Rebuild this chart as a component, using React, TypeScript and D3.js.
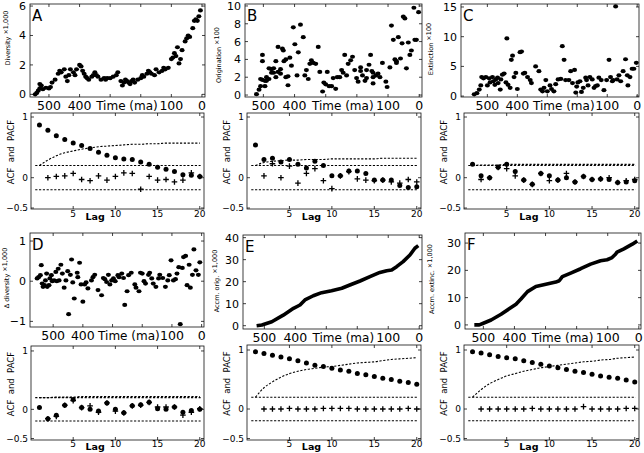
import * as d3 from 'd3'

const FONT = '"DejaVu Sans", Verdana, sans-serif'

// top-row series: [age in Ma, value]
const diversity: [number, number][] = [
  [545, 0], [540, 0.1], [535, 0.25], [530, 0.4], [530, 0.7], [525, 0.6], [520, 0.35], [510, 0.45], [500, 0.4], [495, 0.5],
  [490, 0.8], [480, 1.0], [470, 1.4], [465, 1.6], [460, 1.5], [450, 1.7], [445, 1.2], [440, 0.9], [435, 1.3], [430, 1.7],
  [420, 1.5], [415, 1.3], [410, 1.7], [400, 2.0], [395, 1.9], [390, 1.6], [385, 1.4], [380, 1.2], [375, 1.1], [370, 1.0],
  [360, 1.2], [355, 1.3], [350, 1.5], [345, 1.3], [340, 1.2], [330, 1.0], [320, 1.1], [315, 1.0], [310, 1.1], [300, 1.1],
  [290, 1.2], [280, 1.3], [275, 1.5], [265, 0.9], [260, 0.6], [255, 0.8], [250, 1.0], [245, 0.9], [240, 0.8], [235, 0.7],
  [230, 0.9], [225, 1.0], [220, 0.8], [210, 1.0], [200, 1.1], [195, 1.3], [190, 1.2], [180, 1.4], [175, 1.6], [170, 1.5],
  [165, 1.4], [155, 1.3], [150, 1.7], [140, 1.5], [130, 1.6], [125, 1.8], [120, 1.7], [110, 1.8], [100, 2.4], [95, 2.5],
  [90, 2.8], [85, 2.6], [80, 3.2], [75, 2.1], [70, 2.4], [65, 3.0], [55, 3.6], [50, 3.8], [45, 4.0], [40, 3.9],
  [30, 4.5], [25, 5.0], [20, 5.1], [15, 5.0], [10, 5.3], [5, 5.7],
]
const origination: [number, number][] = [
  [522, 0.1], [514, 0.6], [509, 1.0], [509, 1.8], [503, 1.7], [503, 3.8], [503, 4.5], [495, 1.0], [495, 1.6], [490, 1.6],
  [490, 2.0], [482, 1.8], [482, 3.0], [474, 2.5], [474, 2.9], [467, 2.5], [467, 3.0], [460, 3.8], [460, 2.0], [453, 5.4],
  [453, 2.6], [445, 2.4], [445, 2.9], [439, 5.2], [436, 5.0], [434, 3.8], [428, 2.0], [428, 4.0], [421, 2.1], [421, 1.1],
  [415, 4.2], [410, 3.3], [404, 7.6], [399, 5.7], [392, 2.2], [388, 4.8], [381, 7.9], [372, 6.5], [367, 2.2], [362, 2.8],
  [356, 1.8], [351, 3.5], [346, 3.9], [340, 3.6], [332, 3.5], [324, 5.4], [319, 2.6], [310, 0.4], [306, 1.4], [300, 1.2],
  [295, 2.6], [289, 1.0], [281, 1.0], [276, 1.9], [268, 0.7], [263, 2.0], [255, 2.0], [249, 2.8], [244, 2.5], [239, 4.5],
  [233, 2.2], [228, 3.5], [220, 3.9], [214, 4.3], [207, 2.8], [201, 1.9], [196, 1.5], [188, 3.1], [188, 2.7], [182, 2.2],
  [174, 1.6], [169, 1.9], [169, 2.8], [161, 3.4], [156, 4.5], [152, 2.7], [148, 2.5], [148, 2.0], [148, 1.3], [139, 2.2],
  [132, 2.4], [126, 2.0], [118, 3.6], [107, 1.5], [103, 0.9], [94, 3.1], [89, 7.8], [83, 6.2], [78, 4.0], [73, 3.6],
  [73, 3.8], [67, 6.5], [60, 4.1], [55, 5.8], [51, 8.8], [46, 8.6], [41, 3.0], [35, 5.9], [30, 4.5], [25, 5.0],
  [17, 9.8], [14, 6.2], [9, 6.2], [2, 9.3],
]
const extinction: [number, number][] = [
  [544, 0.3], [535, 0.5], [527, 1.1], [522, 1.8], [519, 3.2], [513, 3.0], [505, 3.2], [500, 1.8], [494, 3.0], [491, 2.3],
  [483, 3.2], [480, 2.5], [475, 1.9], [472, 2.8], [466, 3.1], [464, 2.2], [457, 1.1], [455, 2.8], [450, 3.6], [444, 3.8],
  [438, 2.3], [435, 9.7], [431, 1.9], [424, 1.4], [420, 6.1], [416, 6.8], [411, 3.2], [405, 3.9], [400, 1.2], [391, 7.4],
  [386, 7.5], [380, 3.8], [375, 3.9], [366, 3.2], [357, 2.7], [353, 2.2], [339, 5.0], [328, 4.2], [322, 1.1], [316, 0.8],
  [311, 1.4], [305, 2.7], [300, 0.8], [291, 1.8], [286, 1.2], [278, 0.8], [272, 2.0], [264, 2.8], [255, 2.9], [250, 8.4],
  [244, 6.1], [239, 2.7], [228, 2.7], [222, 4.2], [216, 2.2], [209, 4.4], [205, 0.6], [202, 1.6], [198, 2.3], [191, 2.5],
  [186, 0.7], [180, 1.4], [172, 3.1], [169, 2.7], [164, 1.8], [158, 3.2], [150, 2.8], [144, 1.4], [139, 1.7], [133, 1.8],
  [128, 3.1], [120, 2.7], [111, 1.0], [102, 2.7], [94, 6.1], [89, 3.2], [83, 2.5], [80, 2.7], [72, 15.1], [67, 2.8],
  [61, 3.5], [55, 2.5], [47, 4.2], [39, 6.2], [33, 3.5], [31, 1.8], [24, 3.2], [17, 4.6], [11, 4.6], [3, 5.6],
]
const deltaDiversity: [number, number][] = [
  [554, 0.07], [549, 0.1], [543, 0.15], [540, 0.4], [537, -0.06], [534, -0.14], [529, -0.1], [526, 0.02], [522, 0.19], [520, -0.14],
  [514, -0.1], [511, 0.07], [506, 0.15], [503, 0], [497, 0.02], [491, 0.23], [488, 0], [483, 0.31], [480, 0.02], [474, 0.41],
  [469, 0.19], [463, -0.16], [457, 0.02], [451, 0.25], [448, -0.82], [442, 0.16], [438, 0.54], [434, -0.03], [429, -0.43], [419, 0.21],
  [417, 0.1], [411, 0.46], [406, -0.08], [400, -0.51], [394, -0.08], [389, -0.03], [383, -0.18], [371, 0.02], [366, 0.1], [360, 0.16],
  [349, -0.22], [337, -0.35], [331, 0.08], [326, 0.05], [320, -0.02], [314, 0.16], [309, -0.08], [303, 0.02], [297, 0.07], [291, 0],
  [282, 0.15], [278, 0.1], [269, 0.19], [263, 0.08], [259, -0.59], [251, -0.25], [246, 0.15], [237, 0.21], [225, -0.08], [221, -0.16],
  [211, -0.25], [206, 0.21], [200, 0.19], [194, 0], [189, -0.06], [179, 0.16], [175, 0.21], [168, 0.07], [163, -0.06], [154, -0.14],
  [145, 0.07], [141, 0.16], [131, 0.08], [122, -0.14], [114, 0.02], [109, 0.15], [103, 0.52], [95, 0.02], [88, 0.05], [83, 0.19],
  [77, 0.35], [72, -1.07], [65, 0.33], [61, 0.6], [54, 0.63], [49, -0.1], [42, 0.41], [38, -0.16], [31, 0.16], [26, 0.79],
  [19, 0.27], [11, 0.16], [6, 0.47],
]
const accmOrig: [number, number][] = [
  [525, 0], [508, 0.3], [476, 1.8], [439, 4.8], [406, 7.9], [385, 9.4], [369, 11.7], [342, 13.6], [315, 15.0], [283, 15.9],
  [250, 17.0], [224, 18.5], [191, 20.3], [159, 22.3], [127, 24.2], [105, 25.0], [89, 25.3], [73, 26.8], [52, 29.1], [30, 32.1],
  [14, 35.2], [3, 36.4],
]
const accmExtinc: [number, number][] = [
  [529, 0], [513, 0], [502, 0.5], [475, 1.8], [443, 3.9], [417, 5.9], [395, 7.6], [379, 9.5], [358, 12.2], [331, 14.1],
  [299, 14.9], [267, 15.7], [256, 16.2], [246, 17.7], [219, 19.0], [187, 20.6], [155, 22.3], [123, 23.5], [102, 23.9], [86, 24.7],
  [75, 25.9], [70, 26.7], [48, 27.9], [21, 29.6], [5, 30.8],
]

// autocorrelation rows
const lags = [1, 2, 3, 4, 5, 6, 7, 8, 9, 10, 11, 12, 13, 14, 15, 16, 17, 18, 19, 20]
const acfA = [0.87, 0.78, 0.69, 0.63, 0.57, 0.53, 0.48, 0.42, 0.37, 0.33, 0.31, 0.30, 0.26, 0.22, 0.17, 0.14, 0.10, 0.05, 0.04, 0.02]
const pacfA = [0.00, 0.02, 0.03, 0.07, -0.03, -0.05, 0.03, -0.04, 0.02, 0.08, 0.07, -0.19, 0.02, -0.04, -0.03, -0.07, -0.04, 0.08, 0.02]
const boundA = [0.2, 0.29, 0.36, 0.41, 0.44, 0.47, 0.49, 0.51, 0.52, 0.53, 0.54, 0.55, 0.55, 0.56, 0.56, 0.57, 0.57, 0.57, 0.57, 0.57]
const acfB = [0.54, 0.30, 0.32, 0.26, 0.30, 0.22, 0.16, 0.27, 0.20, 0.03, 0.03, 0.11, 0.11, 0.07, -0.04, -0.04, -0.04, -0.13, -0.16, -0.15]
const pacfB = [0.03, 0.23, 0.00, 0.19, -0.09, 0.07, 0.15, -0.05, -0.18, 0.03, 0.10, -0.02, -0.04, -0.05, -0.04, -0.07, -0.09, -0.03, -0.07]
const boundB = [0.2, 0.25, 0.27, 0.28, 0.29, 0.29, 0.30, 0.30, 0.30, 0.31, 0.31, 0.31, 0.31, 0.31, 0.31, 0.32, 0.32, 0.32, 0.32, 0.32]
const acfC = [0.22, 0.03, 0.00, 0.17, 0.22, 0.10, -0.04, -0.11, 0.07, 0.03, -0.04, 0.00, -0.07, 0.02, -0.03, -0.02, -0.03, -0.08, -0.07, -0.05]
const pacfC = [-0.03, 0.00, 0.17, 0.15, 0.03, -0.04, -0.11, 0.07, -0.05, -0.04, 0.07, -0.07, 0.02, -0.03, -0.02, 0.00, -0.08, -0.05, -0.03]
const boundC = [0.2, 0.21, 0.21, 0.21, 0.22, 0.22, 0.22, 0.22, 0.22, 0.22, 0.22, 0.22, 0.22, 0.22, 0.22, 0.22, 0.22, 0.22, 0.22, 0.22]
const acfD = [0.03, -0.16, -0.10, 0.07, 0.17, 0.03, 0.00, -0.03, 0.11, 0.00, -0.06, 0.06, 0.08, 0.12, 0.01, 0.00, 0.04, -0.05, -0.02, 0.00]
const pacfD = [-0.16, -0.12, 0.07, 0.15, 0.03, 0.06, -0.05, 0.11, -0.03, -0.06, 0.06, 0.07, 0.12, 0.04, 0.04, 0.04, -0.10, -0.05, 0.01]
const boundD = [0.2, 0.2, 0.21, 0.21, 0.21, 0.22, 0.22, 0.22, 0.22, 0.22, 0.22, 0.22, 0.22, 0.22, 0.22, 0.22, 0.22, 0.22, 0.22, 0.22]
const acfE = [0.97, 0.94, 0.91, 0.88, 0.85, 0.82, 0.78, 0.74, 0.72, 0.69, 0.66, 0.64, 0.60, 0.58, 0.55, 0.52, 0.50, 0.47, 0.45, 0.42]
const pacfE = [0, 0, 0, 0.01, 0, 0, 0, 0.01, 0.01, 0.01, 0.01, 0, 0, 0, 0, 0, 0, 0.01, 0]
const boundE = [0.2, 0.36, 0.46, 0.54, 0.6, 0.64, 0.67, 0.69, 0.71, 0.72, 0.74, 0.76, 0.78, 0.79, 0.8, 0.82, 0.84, 0.85, 0.86, 0.87]
const acfF = [0.97, 0.95, 0.92, 0.89, 0.87, 0.85, 0.82, 0.79, 0.76, 0.73, 0.70, 0.67, 0.64, 0.62, 0.59, 0.56, 0.54, 0.52, 0.49, 0.46]
const pacfF = [0, 0, 0, 0, 0, 0, 0.01, 0, 0, 0, 0, 0, 0.04, 0, 0, 0, 0, 0.01, 0.01]
const boundF = [0.2, 0.33, 0.43, 0.5, 0.56, 0.6, 0.64, 0.67, 0.7, 0.72, 0.74, 0.76, 0.78, 0.8, 0.81, 0.83, 0.84, 0.86, 0.87, 0.88]

const timeTicks = [500, 400, 300, 200, 100, 0]
const timeTickLabels = [500, 400, 100, 0]
const lagTicks = [5, 10, 15, 20]
const acfTicks = [-0.5, 0, 1]
const ciLevel = 0.2

type Box = { l: number; r: number; t: number; b: number }
type TopCfg = {
  id: string; box: Box; xDom: [number, number]; yDom: [number, number]; yTicks: number[]
  data: [number, number][]; line?: boolean; ylab: string[]; ylabAt: [number, number]
}
type AcfCfg = { box: Box; yDom: [number, number]; acf: number[]; pacf: number[]; bound: number[]; lagLabelDy: number }

const topPanels: TopCfg[] = [
  { id: 'A', box: { l: 30, r: 205, t: 4, b: 97 }, xDom: [562, -10], yDom: [-0.18, 6.14], yTicks: [0, 2, 4, 6], data: diversity, ylab: ['Diversity', '×1,000'], ylabAt: [10, 38] },
  { id: 'B', box: { l: 245, r: 422, t: 4, b: 97 }, xDom: [559, -9], yDom: [-0.22, 10.22], yTicks: [0, 2, 4, 6, 8, 10], data: origination, ylab: ['Origination', '×100'], ylabAt: [221, 55] },
  { id: 'C', box: { l: 461, r: 639, t: 4, b: 97 }, xDom: [588, -6], yDom: [-0.15, 15.5], yTicks: [0, 5, 10, 15], data: extinction, ylab: ['Extinction', '×100'], ylabAt: [433, 49] },
  { id: 'D', box: { l: 30, r: 204, t: 233, b: 327 }, xDom: [578, -8], yDom: [-1.14, 1.2], yTicks: [-1, 0, 1], data: deltaDiversity, ylab: ['Δ diversity', '×1,000'], ylabAt: [9, 278] },
  { id: 'E', box: { l: 243, r: 422, t: 235, b: 329 }, xDom: [569, -9], yDom: [-1.5, 41.2], yTicks: [0, 10, 20, 30, 40], data: accmOrig, line: true, ylab: ['Accm. orig.', '×1,000'], ylabAt: [219, 281] },
  { id: 'F', box: { l: 465, r: 641, t: 233, b: 329 }, xDom: [559, -7], yDom: [-1.5, 33.7], yTicks: [0, 10, 20, 30], data: accmExtinc, line: true, ylab: ['Accm. extinc.', '×1,000'], ylabAt: [434, 279] },
]

const acfTop: [number, number] = [-0.516, 1.066]
const acfBottom: [number, number] = [-0.525, 1.085]
const acfPanels: AcfCfg[] = [
  { box: { l: 31, r: 204, t: 113, b: 209 }, yDom: acfTop, acf: acfA, pacf: pacfA, bound: boundA, lagLabelDy: 8 },
  { box: { l: 247, r: 421, t: 113, b: 209 }, yDom: acfTop, acf: acfB, pacf: pacfB, bound: boundB, lagLabelDy: 8 },
  { box: { l: 464, r: 639, t: 113, b: 209 }, yDom: acfTop, acf: acfC, pacf: pacfC, bound: boundC, lagLabelDy: 8 },
  { box: { l: 31, r: 204, t: 346, b: 440 }, yDom: acfBottom, acf: acfD, pacf: pacfD, bound: boundD, lagLabelDy: 7 },
  { box: { l: 247, r: 421, t: 345, b: 440 }, yDom: acfBottom, acf: acfE, pacf: pacfE, bound: boundE, lagLabelDy: 7 },
  { box: { l: 464, r: 639, t: 345, b: 440 }, yDom: acfBottom, acf: acfF, pacf: pacfF, bound: boundF, lagLabelDy: 7 },
]

const TL = 3

function TopPanel({ p }: { p: TopCfg }) {
  const { l, r, t, b } = p.box
  const x = d3.scaleLinear().domain(p.xDom).range([l, r])
  const y = d3.scaleLinear().domain(p.yDom).range([b, t])
  const line = d3.line<[number, number]>().x(d => x(d[0])).y(d => y(d[1]))
  return (
    <g>
      <rect x={l} y={t} width={r - l} height={b - t} fill="none" stroke="#111" strokeWidth={0.8} />
      <g stroke="#111" strokeWidth={0.8}>
        {timeTicks.map(v => (
          <g key={v}>
            <line x1={x(v)} x2={x(v)} y1={b} y2={b - TL} />
            <line x1={x(v)} x2={x(v)} y1={t} y2={t + TL} />
          </g>
        ))}
        {p.yTicks.map(v => (
          <g key={v}>
            <line x1={l} x2={l + TL} y1={y(v)} y2={y(v)} />
            <line x1={r} x2={r - TL} y1={y(v)} y2={y(v)} />
          </g>
        ))}
      </g>
      {p.yTicks.map(v => (
        <text key={v} x={l - 4} y={y(v)} dy="0.36em" textAnchor="end" fontSize={11}>{v < 0 ? '−' + Math.abs(v) : v}</text>
      ))}
      {timeTickLabels.map(v => (
        <text key={v} x={x(v)} y={b + 12.5} textAnchor="middle" fontSize={12.5}>{v}</text>
      ))}
      <text x={x(250) + 1.5} y={b + 12.5} textAnchor="middle" fontSize={12}>Time (ma)</text>
      {p.line
        ? <path d={line(p.data) || ''} fill="none" stroke="#000" strokeWidth={3.6} strokeLinejoin="round" />
        : p.data.map((d, i) => <ellipse key={i} cx={x(d[0])} cy={y(d[1])} rx={2.5} ry={2.1} fill="#000" />)}
      <text x={l + 2} y={t + 17} fontSize={15}>{p.id}</text>
      <text transform={`translate(${p.ylabAt[0]},${p.ylabAt[1]}) rotate(-90)`} textAnchor="middle" fontSize={6.5}>
        {p.ylab[0]}<tspan dx={2} dy={-2}>{p.ylab[1]}</tspan>
      </text>
    </g>
  )
}

function AcfPanel({ p }: { p: AcfCfg }) {
  const { l, r, t, b } = p.box
  const x = d3.scaleLinear().domain([0, 20.5]).range([l, r])
  const y = d3.scaleLinear().domain(p.yDom).range([b, t])
  const boundLine = d3.line<number>().x((_, i) => x(lags[i])).y(d => y(d)).curve(d3.curveMonotoneX)
  const x0 = x(lags[0] - 0.5)
  const x1 = x(lags[lags.length - 1] + 0.1)
  const dash = '2.2,1.6'
  return (
    <g>
      <rect x={l} y={t} width={r - l} height={b - t} fill="none" stroke="#111" strokeWidth={0.8} />
      <g stroke="#111" strokeWidth={0.8}>
        {lagTicks.map(v => (
          <g key={v}>
            <line x1={x(v)} x2={x(v)} y1={b} y2={b - TL} />
            <line x1={x(v)} x2={x(v)} y1={t} y2={t + TL} />
          </g>
        ))}
        {acfTicks.map(v => (
          <g key={v}>
            <line x1={l} x2={l + TL} y1={y(v)} y2={y(v)} />
            <line x1={r} x2={r - TL} y1={y(v)} y2={y(v)} />
          </g>
        ))}
      </g>
      {acfTicks.map(v => (
        <text key={v} x={l - 3} y={y(v)} dy="0.36em" textAnchor="end" fontSize={9}>{v < 0 ? '−' + Math.abs(v) : v}</text>
      ))}
      {lagTicks.map(v => (
        <text key={v} x={x(v)} y={b + p.lagLabelDy} textAnchor="middle" fontSize={9}>{v}</text>
      ))}
      <text x={x(7.6)} y={b + p.lagLabelDy + 3} textAnchor="middle" fontSize={9.5} fontWeight="bold">Lag</text>
      <text transform={`translate(${l - 17.5},${(t + b) / 2 - 9}) rotate(-90)`} textAnchor="middle" fontSize={8.5} style={{ whiteSpace: 'pre' }}>ACF  and  PACF</text>
      <g fill="none" stroke="#000" strokeWidth={1.1} strokeDasharray={dash}>
        <line x1={x0} x2={x1} y1={y(ciLevel)} y2={y(ciLevel)} />
        <line x1={x0} x2={x1} y1={y(-ciLevel)} y2={y(-ciLevel)} />
        <path d={boundLine(p.bound) || ''} />
      </g>
      {p.pacf.map((v, i) => {
        const cx = x(lags[i + 1]), cy = y(v)
        return <path key={'p' + i} d={`M${cx - 2.8},${cy}H${cx + 2.8}M${cx},${cy - 2.8}V${cy + 2.8}`} stroke="#000" strokeWidth={1.3} />
      })}
      {p.acf.map((v, i) => <circle key={'a' + i} cx={x(lags[i])} cy={y(v)} r={2.5} fill="#000" />)}
    </g>
  )
}

export default function App() {
  return (
    <svg width={644} height={453} style={{ position: 'absolute', left: 0, top: 0, background: '#fff' }} fontFamily={FONT}>
      <rect width={644} height={453} fill="#fff" />
      {topPanels.map(p => <TopPanel key={p.id} p={p} />)}
      {acfPanels.map((p, i) => <AcfPanel key={i} p={p} />)}
    </svg>
  )
}
